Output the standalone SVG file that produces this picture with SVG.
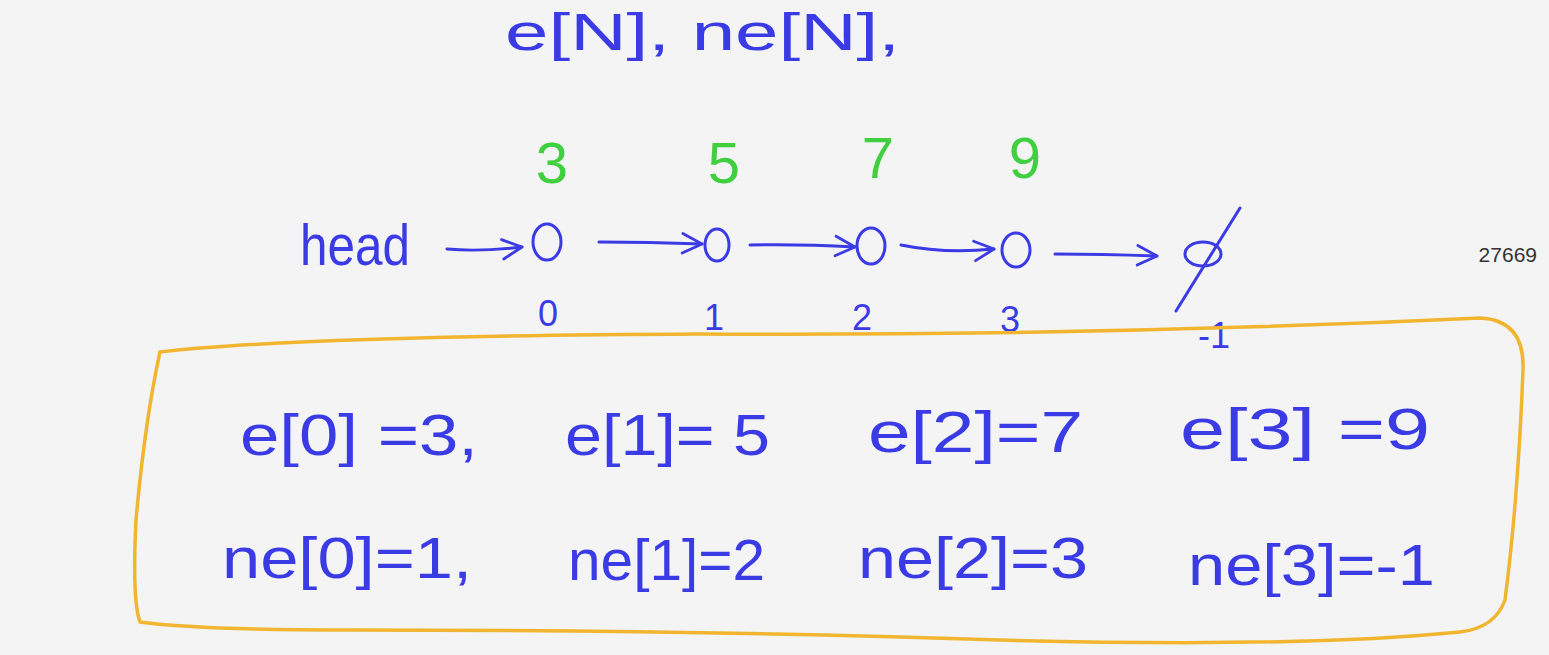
<svg xmlns="http://www.w3.org/2000/svg" width="1549" height="655" viewBox="0 0 1549 655">
<defs>
<style>
.ink{fill:#3b3be6;font-family:"Liberation Sans",Arial,sans-serif;}
.big{font-size:58px;}
.green{fill:#3fcf3f;font-family:"Liberation Sans",Arial,sans-serif;font-size:58px;}
.idx{fill:#3b3be6;font-family:"Liberation Sans",Arial,sans-serif;font-size:36px;}
.node{fill:none;stroke:#3b3be6;stroke-width:3;}
.edge{fill:none;stroke:#3b3be6;stroke-width:3;stroke-linecap:round;marker-end:url(#chev);}
.box{fill:none;stroke:#f2b530;stroke-width:3.5;}
</style>
<marker id="chev" viewBox="0 0 12 12" refX="11" refY="6" markerWidth="26" markerHeight="26" orient="auto" markerUnits="userSpaceOnUse">
<path d="M2,1.5 L11,6 L2,10.5" fill="none" stroke="#3b3be6" stroke-width="1.3" stroke-linecap="round" stroke-linejoin="round"/>
</marker>
</defs>
<rect x="0" y="0" width="1549" height="655" fill="#f4f4f4"/>

<g id="title">
<text class="ink" font-size="52" x="505" y="50" textLength="395" lengthAdjust="spacingAndGlyphs">e[N], ne[N],</text>
</g>

<g id="head">
<text class="ink big" x="300" y="265" textLength="110" lengthAdjust="spacingAndGlyphs">head</text>
</g>

<g id="node0">
<text class="green" x="552" y="183" text-anchor="middle">3</text>
<ellipse class="node" cx="547" cy="242" rx="14" ry="18"/>
<text class="idx" x="548" y="326" text-anchor="middle">0</text>
</g>
<g id="node1">
<text class="green" x="724" y="183" text-anchor="middle">5</text>
<ellipse class="node" cx="717" cy="245" rx="12" ry="16"/>
<text class="idx" x="714" y="330" text-anchor="middle">1</text>
</g>
<g id="node2">
<text class="green" x="878" y="178" text-anchor="middle">7</text>
<ellipse class="node" cx="871" cy="246" rx="14" ry="18"/>
<text class="idx" x="862" y="330" text-anchor="middle">2</text>
</g>
<g id="node3">
<text class="green" x="1025" y="178" text-anchor="middle">9</text>
<ellipse class="node" cx="1016" cy="250" rx="14" ry="17"/>
<text class="idx" x="1010" y="332" text-anchor="middle">3</text>
</g>
<g id="null">
<ellipse class="node" cx="1203" cy="254" rx="18" ry="12"/>
<line x1="1240" y1="208" x2="1176" y2="311" stroke="#3b3be6" stroke-width="3" stroke-linecap="round"/>
<text class="idx" x="1214" y="348" text-anchor="middle">-1</text>
</g>

<g id="edges">
<path class="edge" d="M447,249 Q480,252 522,247"/>
<path class="edge" d="M599,242 Q650,242 702,244"/>
<path class="edge" d="M750,245 Q800,244 855,247"/>
<path class="edge" d="M901,245 Q945,254 994,249"/>
<path class="edge" d="M1055,254 Q1100,254 1157,256"/>
</g>

<g id="table">
<path class="box" d="M160,352 Q300,336 700,334 Q1100,336 1480,318 Q1525,320 1523,370 Q1518,500 1505,600 Q1495,628 1460,632 Q1300,648 1000,640 Q700,630 350,630 Q200,630 140,622 Q132,600 136,520 Q145,420 160,352 Z"/>
<text class="ink big" x="240" y="455" textLength="238" lengthAdjust="spacingAndGlyphs">e[0] =3,</text>
<text class="ink big" x="565" y="455" textLength="205" lengthAdjust="spacingAndGlyphs">e[1]= 5</text>
<text class="ink big" x="868" y="452" textLength="215" lengthAdjust="spacingAndGlyphs">e[2]=7</text>
<text class="ink big" x="1180" y="449" textLength="250" lengthAdjust="spacingAndGlyphs">e[3] =9</text>
<text class="ink big" x="222" y="578" textLength="250" lengthAdjust="spacingAndGlyphs">ne[0]=1,</text>
<text class="ink big" x="568" y="580" textLength="197" lengthAdjust="spacingAndGlyphs">ne[1]=2</text>
<text class="ink big" x="858" y="578" textLength="230" lengthAdjust="spacingAndGlyphs">ne[2]=3</text>
<text class="ink big" x="1188" y="585" textLength="247" lengthAdjust="spacingAndGlyphs">ne[3]=-1</text>
</g>

<g id="counter">
<text x="1537" y="262" text-anchor="end" font-family="Liberation Sans,Arial,sans-serif" font-size="21" fill="#333333">27669</text>
</g>
</svg>
